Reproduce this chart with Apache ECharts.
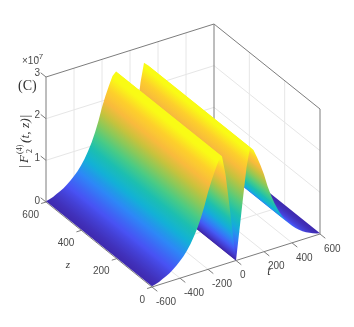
<!DOCTYPE html>
<html>
<head>
<meta charset="utf-8">
<style>
  html, body { margin: 0; padding: 0; background: #fff; }
  #chart { width: 354px; height: 327px; }
</style>
<script src="https://cdn.jsdelivr.net/npm/echarts@6/dist/echarts.min.js"></script>
</head>
<body>
<div id="chart"></div>
<script>
const tValues = [
  -600, -575, -550, -525, -500, -475, -450, -425, -400, -375, -350, -325, -300, -275, -250, -225, -200,
  -175, -150, -125, -100, -75, -50, -25, 0, 25, 50, 75, 100, 125, 150, 175, 200, 225, 250, 275, 300,
  325, 350, 375, 400, 425, 450, 475, 500, 525, 550, 575, 600,
]
// |F| in units of 1e-7
const ampValues = [
  0.02, 0.04, 0.07, 0.11, 0.15, 0.2, 0.26, 0.33, 0.41, 0.5, 0.61, 0.74, 0.9, 1.08, 1.3, 1.55, 1.85,
  2.1, 2.32, 2.52, 2.6, 2.15, 1.45, 0.72, 0, 0.72, 1.45, 2.15, 2.6, 2.52, 2.32, 2.1, 1.85, 1.55, 1.3, 1.08, 0.9,
  0.74, 0.61, 0.5, 0.41, 0.33, 0.26, 0.2, 0.15, 0.11, 0.07, 0.04, 0.02,
]
const tTicks = [-600, -400, -200, 0, 200, 400, 600]
const zTicks = [0, 200, 400, 600]
const vTicks = [0, 1, 2, 3]
const parula = ['#3e26a8', '#4852f4', '#2d87f7', '#12b1d6', '#1cbfb0', '#48cb86', '#89c95a', '#c7c23c', '#f8ba3d', '#fdd02b', '#f9fb15']

const colorMax = 2.5
const colorAt = (v) => echarts.color.lerp(Math.min(v / colorMax, 1), parula)

// oblique view of the box, fixed from the corners of the axes
const project = (t, z, v) => [
  152 + ((t + 600) * 168) / 1200 - (z * 106) / 600,
  287 - ((t + 600) * 53) / 1200 - (z * 85) / 600 - (v * 125) / 3,
]

const gridColor = '#e6e6e6'
const axisColor = '#7d7d7d'

const lineEl = (api, a, b, color) => {
  const p = api.coord(a)
  const q = api.coord(b)
  return {
    type: 'line',
    shape: { x1: p[0], y1: p[1], x2: q[0], y2: q[1] },
    style: { stroke: color, lineWidth: 1 },
    silent: true,
  }
}

const textEl = (api, str, p, dx, dy, align) => {
  const c = api.coord(p)
  return {
    type: 'text',
    silent: true,
    style: {
      text: str,
      x: c[0] + dx,
      y: c[1] + dy,
      align,
      verticalAlign: 'middle',
      fill: '#4a4a4a',
      font: '10px "Liberation Sans", sans-serif',
    },
  }
}

const renderBox = (params, api) => {
  const children = []
  const wall = (a, b) => children.push(lineEl(api, a, b, gridColor))
  const edge = (a, b) => children.push(lineEl(api, a, b, axisColor))

  tTicks.slice(1, -1).forEach((t) => {
    wall(project(t, 0, 0), project(t, 600, 0))
    wall(project(t, 600, 0), project(t, 600, 3))
  })
  zTicks.slice(1, -1).forEach((z) => {
    wall(project(-600, z, 0), project(600, z, 0))
    wall(project(600, z, 0), project(600, z, 3))
  })
  vTicks.slice(1, -1).forEach((v) => {
    wall(project(-600, 600, v), project(600, 600, v))
    wall(project(600, 600, v), project(600, 0, v))
  })

  edge(project(-600, 600, 0), project(-600, 600, 3))
  edge(project(600, 600, 0), project(600, 600, 3))
  edge(project(600, 0, 0), project(600, 0, 3))
  edge(project(-600, 600, 3), project(600, 600, 3))
  edge(project(600, 600, 3), project(600, 0, 3))
  edge(project(-600, 600, 0), project(-600, 0, 0))
  edge(project(-600, 0, 0), project(600, 0, 0))

  tTicks.forEach((t) => {
    edge(project(t, 0, 0), project(t, -30, 0))
    children.push(textEl(api, String(t), project(t, 0, 0), 4, 15, 'left'))
  })
  zTicks.forEach((z) => {
    edge(project(-600, z, 0), project(-635, z, 0))
    children.push(textEl(api, String(z), project(-600, z, 0), -7, 13, 'right'))
  })
  vTicks.forEach((v) => {
    edge(project(-600, 600, v), project(-600, 630, v))
    children.push(textEl(api, String(v), project(-600, 600, v), -6, -1 - v, 'right'))
  })
  return { type: 'group', children }
}

// distance across the z direction on screen; colour only changes along it
const normalZ = () => {
  const e = project(0, 600, 0)
  const o = project(0, 0, 0)
  const ex = e[0] - o[0]
  const ey = e[1] - o[1]
  const len = Math.hypot(ex, ey)
  return [-ey / len, ex / len]
}
const acrossZ = (p) => {
  const n = normalZ()
  return p[0] * n[0] + p[1] * n[1]
}

// split the profile at its folds, each run is one face of the surface
const acrossValues = tValues.map((t, i) => acrossZ(project(t, 0, ampValues[i])))
const faceRuns = []
let runStart = 0
for (let i = 1; i < tValues.length - 1; i++) {
  const a = acrossValues[i] - acrossValues[i - 1]
  const b = acrossValues[i + 1] - acrossValues[i]
  if (a * b < 0) {
    faceRuns.push([runStart, i])
    runStart = i
  }
}
faceRuns.push([runStart, tValues.length - 1])
// far side first so the nearer faces paint over it
faceRuns.reverse()

const renderFace = (params, api) => {
  const from = api.value(0)
  const to = api.value(1)
  const front = []
  const back = []
  for (let i = from; i <= to; i++) {
    front.push(api.coord(project(tValues[i], 0, ampValues[i])))
    back.unshift(api.coord(project(tValues[i], 600, ampValues[i])))
  }

  const span = acrossValues[to] - acrossValues[from]
  const stops = []
  for (let i = from; i < to; i++) {
    for (let s = 0; s < 5; s++) {
      const f = s / 5
      const pos = acrossValues[i] + (acrossValues[i + 1] - acrossValues[i]) * f
      stops.push({
        offset: (pos - acrossValues[from]) / span,
        color: colorAt(ampValues[i] + (ampValues[i + 1] - ampValues[i]) * f),
      })
    }
  }
  stops.push({ offset: 1, color: colorAt(ampValues[to]) })

  const n = normalZ()
  const start = front[0]
  const fill = new echarts.graphic.LinearGradient(start[0], start[1], start[0] + n[0] * span, start[1] + n[1] * span, stops, true)

  return {
    type: 'polygon',
    shape: { points: front.concat(back) },
    style: { fill },
    silent: true,
  }
}

const annotations = [
  { style: { text: '×10', x: 22, y: 61, font: '10px "Liberation Sans", sans-serif', fill: '#4a4a4a', verticalAlign: 'middle' } },
  { style: { text: '-7', x: 36, y: 57, font: '8px "Liberation Sans", sans-serif', fill: '#4a4a4a', verticalAlign: 'middle' } },
  { style: { text: '(C)', x: 18, y: 86, font: '14px "Liberation Serif", serif', fill: '#333', verticalAlign: 'middle' } },
  { x: 25, y: 168, rotation: Math.PI / 2, style: { text: '|', x: 0, y: 0, font: '13px "Liberation Serif", serif', fill: '#333', verticalAlign: 'middle' } },
  { x: 25, y: 163, rotation: Math.PI / 2, style: { text: 'F', x: 0, y: 0, font: 'italic 13px "Liberation Serif", serif', fill: '#333', verticalAlign: 'middle' } },
  { x: 20, y: 154, rotation: Math.PI / 2, style: { text: '(4)', x: 0, y: 0, font: '8px "Liberation Serif", serif', fill: '#333', verticalAlign: 'middle' } },
  { x: 30, y: 153, rotation: Math.PI / 2, style: { text: '2', x: 0, y: 0, font: '8px "Liberation Serif", serif', fill: '#333', verticalAlign: 'middle' } },
  { x: 25, y: 143, rotation: Math.PI / 2, style: { text: '(t, z)|', x: 0, y: 0, font: 'italic 13.5px "Liberation Serif", serif', fill: '#333', verticalAlign: 'middle' } },
  { style: { text: 'z', x: 68, y: 265, font: 'italic 11px "Liberation Serif", serif', fill: '#333', align: 'center', verticalAlign: 'middle' } },
  { style: { text: 't', x: 269, y: 272, font: 'italic 12px "Liberation Serif", serif', fill: '#333', align: 'center', verticalAlign: 'middle' } },
]

const chart = echarts.init(document.getElementById('chart'), null, { renderer: 'canvas' })
chart.setOption({
  animation: false,
  backgroundColor: '#fff',
  grid: { left: 0, right: 0, top: 0, bottom: 0 },
  xAxis: { type: 'value', min: 0, max: 354, show: false },
  yAxis: { type: 'value', min: 0, max: 327, inverse: true, show: false },
  graphic: annotations.map((a) => ({ type: 'text', silent: true, ...a })),
  series: [
    { type: 'custom', clip: false, data: [[0]], renderItem: renderBox, silent: true },
    { type: 'custom', clip: false, data: faceRuns, renderItem: renderFace, silent: true },
  ],
})
</script>
</body>
</html>
